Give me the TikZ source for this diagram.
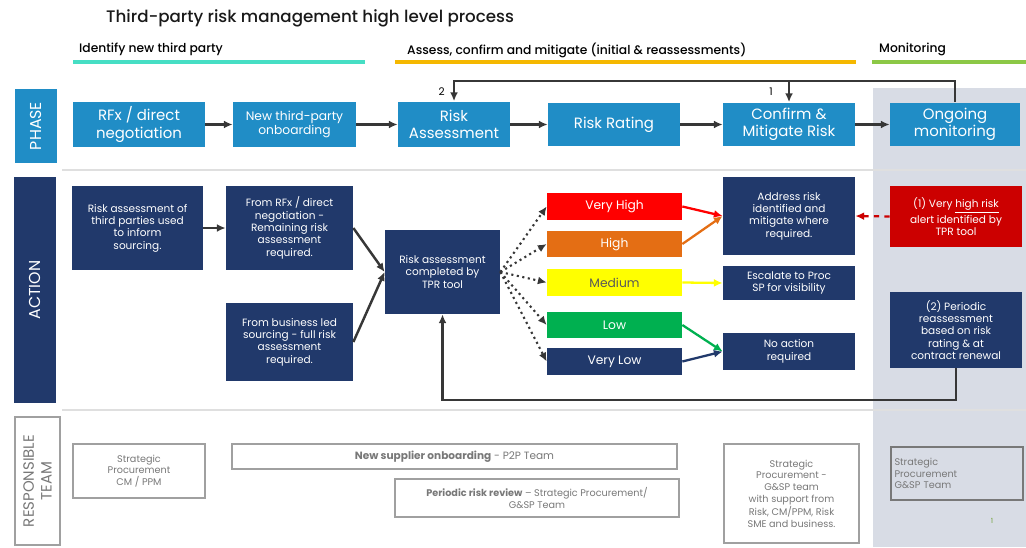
\documentclass[tikz,border=0pt]{standalone}
\usepackage{fontspec}
\setmainfont{Poppins}
\newfontfamily\headfont{Poppins Medium}
\usepackage{tikz}
\usetikzlibrary{arrows,arrows.meta,positioning,calc}
\usepackage{xcolor}
\definecolor{phaseblue}{RGB}{32,141,198}
\definecolor{actionnavy}{RGB}{33,57,107}
\definecolor{panelgrey}{RGB}{216,220,229}
\definecolor{linegrey}{RGB}{55,55,55}
\definecolor{teamgrey}{RGB}{120,120,120}
\definecolor{tealline}{RGB}{70,222,196}
\definecolor{goldline}{RGB}{245,184,0}
\definecolor{greenline}{RGB}{140,200,70}
\definecolor{vhred}{RGB}{255,0,0}
\definecolor{hiorange}{RGB}{228,110,20}
\definecolor{medyellow}{RGB}{255,255,0}
\definecolor{lowgreen}{RGB}{0,176,80}
\definecolor{alertred}{RGB}{204,0,0}

\begin{document}
\begin{tikzpicture}[
    x=0.02cm, y=-0.02cm,
    phasebox/.style={fill=phaseblue, text=white, minimum width=2.64cm, minimum height=0.92cm, align=center, font=\fontsize{8.5}{10}\selectfont, inner sep=1pt},
    actbox/.style={fill=actionnavy, text=white, align=center, font=\fontsize{6}{7}\selectfont, inner sep=1pt},
    ratebox/.style={minimum width=2.7cm, minimum height=0.53cm, text=white, font=\fontsize{7}{8}\selectfont, inner sep=1pt},
    teambox/.style={draw=teamgrey!70, fill=white, text=teamgrey, align=center, font=\fontsize{5.5}{6.6}\selectfont, line width=0.7pt, inner sep=1pt},
    rowlbl/.style={rotate=90, align=center, inner sep=1pt},
    arrow/.style={-{Latex[length=5pt,width=4.5pt]}, line width=1.4pt, draw=linegrey},
    riskarrow/.style={-{Latex[length=5pt,width=4.5pt]}, line width=1.3pt}
]
    \useasboundingbox (0,0) rectangle (1026,547);
    \fill[panelgrey] (873,88) rectangle (1026,547);
    \draw[gray!25, line width=1pt] (62,170) -- (1026,170);
    \draw[gray!25, line width=1pt] (62,410) -- (1026,410);

    % title and stages
    \node[anchor=west, font=\headfont\fontsize{9.5}{11}\selectfont, text=black!90] (title) at (100,18) {Third-party risk management high level process};
    \node[anchor=west, font=\headfont\fontsize{7}{8}\selectfont] (hdrid) at (73,49) {Identify new third party};
    \node[anchor=west, font=\headfont\fontsize{7}{8}\selectfont] (hdrassess) at (401,50) {Assess, confirm and mitigate (initial \& reassessments)};
    \node[anchor=west, font=\headfont\fontsize{7}{8}\selectfont] (hdrmon) at (873,49) {Monitoring};
    \draw[tealline, line width=2.5pt] (73,62) -- (365,62);
    \draw[goldline, line width=2.5pt] (395,62) -- (856,62);
    \draw[greenline, line width=2pt] (872,62) -- (1026,62);

    % phase row
    \node[rowlbl, fill=phaseblue, text=white, minimum width=1.48cm, minimum height=0.84cm, font=\fontsize{9}{10}\selectfont] (phaselbl) at (36,126) {PHASE};
    \node[phasebox] (rfx) at (139,124.5) {RFx / direct\\negotiation};
    \node[phasebox, minimum width=2.46cm, font=\fontsize{7}{8.5}\selectfont] (onb) at (294.5,124.5) {New third-party\\onboarding};
    \node[phasebox, minimum width=2.24cm] (riskass) at (454,124.5) {Risk\\Assessment};
    \node[phasebox, minimum height=0.88cm] (rating) at (614,124.5) {Risk Rating};
    \node[phasebox, minimum height=0.88cm] (confirm) at (789,124.5) {Confirm \&\\Mitigate Risk};
    \node[phasebox, minimum width=2.6cm, minimum height=0.88cm] (mon) at (955,124.5) {Ongoing\\monitoring};

    \foreach \a/\b in {rfx/onb, onb/riskass, riskass/rating, rating/confirm, confirm/mon}
        \draw[arrow] (\a) -- (\b);

    \coordinate (looptop) at (0,81);
    \draw[arrow] (mon.north) -- (mon.north |- looptop) -| (riskass.north);
    \draw[arrow] (confirm.north |- looptop) -- (confirm.north);
    \node[font=\fontsize{6}{7}\selectfont, anchor=east] (two) at ($(riskass.north)+(-3,-10)$) {2};
    \node[font=\fontsize{6}{7}\selectfont, anchor=east] (one) at ($(confirm.north)+(-10,-10)$) {1};

    % action row
    \node[rowlbl, fill=actionnavy, text=white, minimum width=4.52cm, minimum height=0.84cm, font=\fontsize{9}{10}\selectfont] (actlbl) at (35,290) {ACTION};
    \node[actbox, minimum width=2.62cm, minimum height=1.68cm] (act1) at (137.5,228) {Risk assessment of\\third parties used\\to inform\\sourcing.};
    \node[actbox, minimum width=2.54cm, minimum height=1.68cm] (act2) at (289.5,228) {From RFx / direct\\negotiation -\\Remaining risk\\assessment\\required.};
    \node[actbox, minimum width=2.54cm, minimum height=1.56cm] (act3) at (289.5,342) {From business led\\sourcing - full risk\\assessment\\required.};
    \node[actbox, minimum width=2.3cm, minimum height=1.68cm] (tpr) at (442.5,272) {Risk assessment\\completed by\\TPR tool};

    \draw[arrow] (act1) -- (act2);
    \draw[arrow] (act2.east) -- (tpr.west);
    \draw[arrow] (act3.east) -- (tpr.west);

    \node[ratebox, fill=vhred] (vh) at (614.5,206.5) {Very High};
    \node[ratebox, fill=hiorange] (hi) at (614.5,244) {High};
    \node[ratebox, fill=medyellow, text=black!65] (med) at (614.5,282.5) {Medium};
    \node[ratebox, fill=lowgreen] (low) at (614.5,325) {Low};
    \node[ratebox, fill=actionnavy] (vl) at (614.5,361.5) {Very Low};

    \foreach \r in {vh, hi, med, low, vl}
        \draw[arrow, line width=1.2pt, dotted] (tpr.east) -- (\r.west);

    \node[actbox, minimum width=2.64cm, minimum height=1.56cm] (addr) at (789,216) {Address risk\\identified and\\mitigate where\\required.};
    \node[actbox, minimum width=2.64cm, minimum height=0.68cm] (esc) at (789,283) {Escalate to Proc\\SP for visibility};
    \node[actbox, minimum width=2.64cm, minimum height=0.74cm] (noact) at (789,351.5) {No action\\required};

    \draw[riskarrow, vhred] (vh.east) -- (addr.west);
    \draw[riskarrow, hiorange] (hi.east) -- (addr.west);
    \draw[riskarrow, medyellow] (med.east) -- (esc.west);
    \draw[riskarrow, lowgreen] (low.east) -- (noact.west);
    \draw[riskarrow, actionnavy] (vl.east) -- (noact.west);

    \node[actbox, fill=alertred, minimum width=2.64cm, minimum height=1.22cm] (alert) at (956,216.5) {(1) Very \underline{high risk}\\alert identified by\\TPR tool};
    \node[actbox, minimum width=2.64cm, minimum height=1.52cm] (periodic) at (956,330) {(2) Periodic\\reassessment\\based on risk\\rating \& at\\contract renewal};

    \draw[riskarrow, alertred, dashed] (alert.west) -- (addr.east);
    \coordinate (loopbot) at (0,400);
    \draw[arrow] (periodic.south) -- (periodic.south |- loopbot) -| (tpr.south);

    % responsible team row
    \node[rowlbl, draw=teamgrey!70, fill=white, text=teamgrey, minimum width=2.56cm, minimum height=0.9cm, font=\fontsize{8.5}{10}\selectfont, line width=0.8pt] (resplbl) at (37.5,481) {RESPONSIBLE\\TEAM};
    \node[teambox, minimum width=2.64cm, minimum height=1.08cm] (team1) at (139,471) {Strategic\\Procurement\\CM / PPM};
    \node[teambox, minimum width=8.9cm, minimum height=0.5cm, font=\fontsize{6}{7}\selectfont] (team2) at (454.5,456.5) {\textbf{New supplier onboarding} - P2P Team};
    \node[teambox, minimum width=5.68cm, minimum height=0.76cm] (team3) at (537,498) {\textbf{Periodic risk review} -- Strategic Procurement/\\G\&SP Team};
    \node[teambox, minimum width=2.7cm, minimum height=1.98cm] (team4) at (791.5,493.5) {Strategic\\Procurement -\\G\&SP team\\with support from\\Risk, CM/PPM, Risk\\SME and business.};
    \node[teambox, draw=teamgrey, fill=panelgrey, align=left, text width=2.5cm, minimum height=1.06cm, inner sep=2pt] (team5) at (957,473.5) {Strategic\\Procurement\\G\&SP Team};
    \node[font=\fontsize{4}{5}\selectfont, text=greenline!80!black] (pagemark) at (992,521) {1};
\end{tikzpicture}
\end{document}
